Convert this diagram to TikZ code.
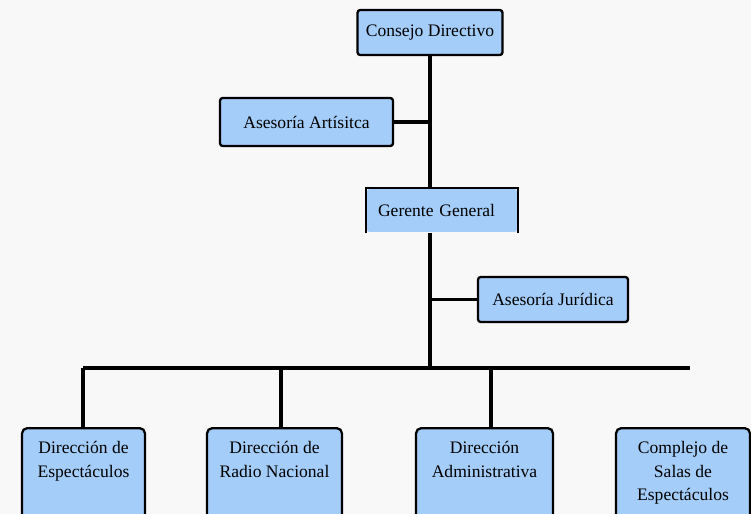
\documentclass[tikz,border=0pt]{standalone}
\usepackage{fontspec}
\setmainfont{Liberation Serif}
\usepackage{xcolor}
\definecolor{boxblue}{RGB}{165,205,250}
\definecolor{paper}{RGB}{248,248,248}
\newcommand{\dirtext}[2]{\parbox[t][2.2cm][t]{#1}{\centering\rule{0pt}{14.5pt}#2}}
\tikzset{
    common/.style={draw, fill=boxblue, line width=1.3pt, rounded corners=1.5pt, inner sep=0pt, font=\fontsize{10}{13.4}\selectfont},
    unit/.style={common, minimum height=0.9cm},
    openunit/.style={unit, draw=none},
    direction/.style={common, anchor=north, rounded corners=3pt},
    link/.style={line width=2pt}
}

\begin{document}
\begin{tikzpicture}[x=0.02cm, y=-0.02cm]
  \useasboundingbox (0,0) rectangle (751,514);
  \fill[paper] (0,0) rectangle (751,514);
  \clip (0,0) rectangle (751,514);

  \node[unit, minimum width=2.9cm] (consejo) at (430,32.5) {Consejo Directivo};
  \node[unit, minimum width=3.46cm, minimum height=0.96cm] (artistica) at (306.5,122) {Asesoría Artísitca};
  \node[openunit, minimum height=0.86cm, text width=2.56cm, inner xsep=0.22cm, align=left] (gerente) at (442,210.5) {Gerente General};
  \draw[line width=1.3pt] (gerente.south west) -- (gerente.north west) -- (gerente.north east) -- (gerente.south east);
  \node[unit, minimum width=3cm] (juridica) at (553,299.5) {Asesoría Jurídica};

  \node[direction] (dir-esp) at (83.5,427) {\dirtext{2.46cm}{Dirección de\\Espectáculos}};
  \node[direction] (dir-radio) at (274.5,427) {\dirtext{2.7cm}{Dirección de\\Radio Nacional}};
  \node[direction] (dir-admin) at (484.5,427) {\dirtext{2.74cm}{Dirección\\Administrativa}};
  \node[direction] (complejo) at (683,427) {\dirtext{2.68cm}{Complejo de\\Salas de\\Espectáculos}};

  \coordinate (bus-left) at (83,368);
  \coordinate (bus-radio) at (281,368);
  \coordinate (bus-admin) at (491,368);
  \coordinate (bus-right) at (690,368);

  \draw[link] (consejo.south) -- (consejo.south |- gerente.north);
  \draw[link] (consejo.south |- gerente.south) -- (consejo.south |- bus-left);
  \draw[link] (artistica.east) -- (artistica.east -| consejo.south);
  \draw[link] (juridica.west) -- (juridica.west -| consejo.south);
  \draw[link] (bus-left) -- (bus-right);
  \draw[link] (bus-left) -- (bus-left |- dir-esp.north);
  \draw[link] (bus-radio) -- (bus-radio |- dir-radio.north);
  \draw[link] (bus-admin) -- (bus-admin |- dir-admin.north);
\end{tikzpicture}
\end{document}
